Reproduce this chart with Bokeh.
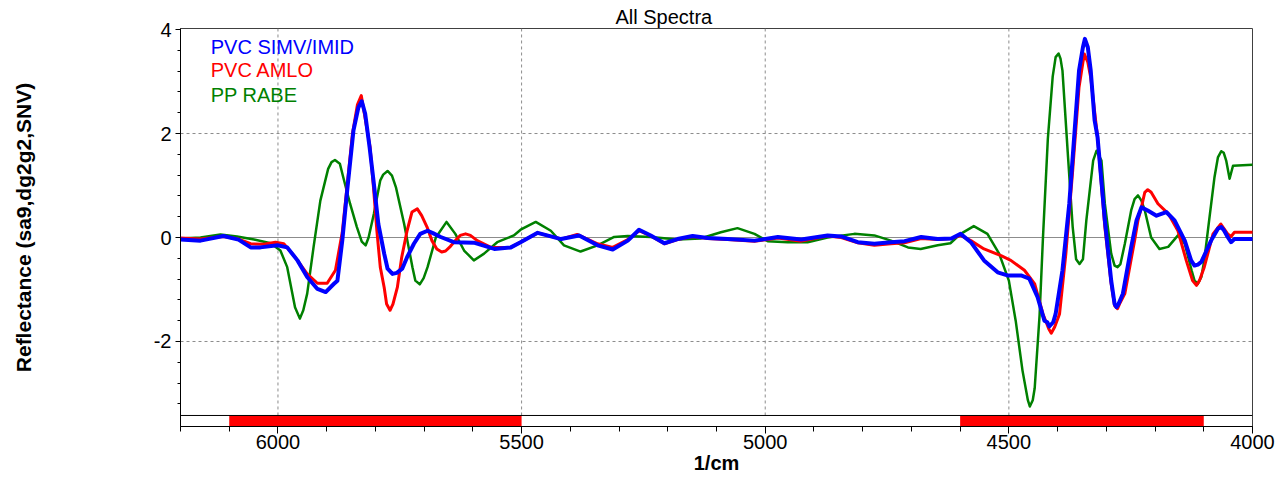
import numpy as np
from bokeh.plotting import figure
from bokeh.models import Range1d, FixedTicker, Span, Label
from bokeh.embed import file_html
from bokeh.resources import INLINE

FONT = "Liberation Sans"

series_names = ["PVC SIMV/IMID", "PVC AMLO", "PP RABE"]
series_colors = ["#0000ff", "#ff0000", "#008000"]
series_widths = [4, 3, 2.5]

blue_wn = [6200, 6159, 6112, 6081, 6056, 6036, 6001, 5981, 5960, 5940, 5919, 5902, 5885, 5878,
           5868, 5858, 5845, 5835, 5828, 5821, 5812, 5804, 5794, 5782, 5775, 5765, 5756, 5745,
           5735, 5721, 5708, 5693, 5681, 5666, 5639, 5598, 5556, 5522, 5502, 5467, 5419, 5382,
           5344, 5313, 5282, 5259, 5235, 5207, 5180, 5149, 5118, 5077, 5022, 4974, 4926, 4872,
           4844, 4810, 4776, 4742, 4714, 4680, 4646, 4618, 4599, 4578, 4551, 4523, 4503, 4475,
           4458, 4441, 4427, 4421, 4417, 4409, 4404, 4390, 4376, 4366, 4356, 4348, 4344, 4338,
           4332, 4324, 4318, 4303, 4290, 4283, 4279, 4275, 4266, 4249, 4238, 4228, 4215, 4197,
           4177, 4160, 4139, 4126, 4119, 4112, 4105, 4085, 4071, 4064, 4058, 4051, 4044, 4037,
           4000]
blue_val = [-0.04, -0.06, 0.03, -0.04, -0.19, -0.19, -0.15, -0.19, -0.44, -0.76, -0.99, -1.05, -0.89, -0.83,
            -0.06, 0.90, 2.06, 2.50, 2.62, 2.38, 1.74, 1.10, 0.26, -0.31, -0.60, -0.70, -0.68, -0.60,
            -0.38, -0.12, 0.07, 0.13, 0.08, 0.01, -0.09, -0.10, -0.22, -0.19, -0.09, 0.09, -0.03, 0.04,
            -0.15, -0.23, -0.06, 0.15, 0.04, -0.11, -0.03, 0.03, -0.01, -0.03, -0.06, 0.01, -0.04, 0.04,
            0.02, -0.09, -0.12, -0.09, -0.07, 0.01, -0.03, -0.02, 0.07, -0.09, -0.44, -0.67, -0.73, -0.73,
            -0.79, -1.15, -1.60, -1.63, -1.71, -1.63, -1.47, -0.63, 0.65, 1.93, 3.21, 3.66, 3.82, 3.66,
            3.21, 2.25, 1.93, 0.33, -0.83, -1.28, -1.34, -1.28, -1.08, -0.19, 0.33, 0.58, 0.52, 0.42,
            0.49, 0.33, -0.06, -0.44, -0.54, -0.52, -0.47, -0.06, 0.17, 0.20, 0.13, 0.01, -0.09, -0.03,
            -0.03]

red_wn = [6200, 6159, 6112, 6081, 6056, 6029, 6005, 5988, 5967, 5940, 5919, 5899, 5882, 5868,
          5858, 5847, 5837, 5829, 5818, 5811, 5804, 5797, 5790, 5782, 5777, 5770, 5764, 5755,
          5746, 5735, 5725, 5714, 5705, 5694, 5684, 5674, 5664, 5656, 5646, 5636, 5626, 5615,
          5605, 5591, 5563, 5522, 5502, 5467, 5419, 5386, 5344, 5313, 5282, 5259, 5235, 5207,
          5180, 5149, 5118, 5077, 5022, 4974, 4926, 4872, 4844, 4810, 4776, 4742, 4714, 4680,
          4646, 4618, 4599, 4578, 4551, 4516, 4496, 4468, 4447, 4430, 4418, 4413, 4406, 4396,
          4383, 4369, 4356, 4348, 4345, 4338, 4332, 4318, 4303, 4290, 4283, 4277, 4273, 4262,
          4242, 4235, 4228, 4221, 4215, 4208, 4194, 4173, 4153, 4136, 4123, 4115, 4109, 4099,
          4081, 4065, 4051, 4044, 4037, 4000]
red_val = [-0.01, -0.03, 0.02, -0.03, -0.12, -0.13, -0.09, -0.12, -0.35, -0.70, -0.88, -0.88, -0.63, 0.10,
           1.00, 2.00, 2.55, 2.73, 2.12, 1.74, 0.97, 0.13, -0.57, -0.96, -1.28, -1.40, -1.28, -0.96,
           -0.38, 0.13, 0.49, 0.55, 0.42, 0.20, -0.06, -0.22, -0.28, -0.26, -0.17, -0.06, 0.04, 0.07,
           0.04, -0.06, -0.19, -0.19, -0.09, 0.09, -0.03, 0.06, -0.12, -0.19, -0.04, 0.13, 0.03, -0.12,
           -0.04, 0.02, -0.02, -0.04, -0.07, -0.01, -0.07, 0.03, 0.00, -0.10, -0.15, -0.12, -0.10, -0.02,
           -0.04, -0.02, 0.04, -0.06, -0.22, -0.35, -0.44, -0.63, -0.89, -1.47, -1.76, -1.84, -1.72, -1.47,
           -0.31, 1.29, 2.89, 3.37, 3.53, 3.37, 3.08, 1.93, 0.20, -0.89, -1.31, -1.37, -1.28, -1.08,
           -0.06, 0.33, 0.58, 0.87, 0.92, 0.87, 0.65, 0.46, 0.13, -0.44, -0.83, -0.92, -0.83, -0.57,
           0.07, 0.26, 0.07, 0.02, 0.10, 0.10]

green_wn = [6200, 6159, 6118, 6084, 6049, 6015, 5995, 5981, 5965, 5955, 5948, 5940, 5927, 5913,
            5897, 5890, 5883, 5873, 5866, 5852, 5838, 5828, 5820, 5814, 5803, 5790, 5784, 5775,
            5766, 5758, 5741, 5724, 5718, 5709, 5701, 5693, 5676, 5654, 5636, 5618, 5598, 5577,
            5550, 5516, 5502, 5488, 5471, 5440, 5413, 5379, 5344, 5310, 5282, 5235, 5180, 5133,
            5091, 5057, 5022, 4995, 4954, 4913, 4872, 4817, 4776, 4742, 4707, 4681, 4646, 4620,
            4599, 4572, 4544, 4520, 4500, 4486, 4472, 4461, 4457, 4451, 4447, 4437, 4430, 4420,
            4410, 4404, 4398, 4394, 4390, 4379, 4369, 4362, 4355, 4348, 4341, 4327, 4320, 4310,
            4303, 4290, 4283, 4277, 4271, 4262, 4249, 4242, 4235, 4228, 4221, 4208, 4191, 4173,
            4153, 4139, 4125, 4119, 4112, 4105, 4099, 4089, 4078, 4071, 4064, 4059, 4054, 4047,
            4040, 4000]
green_val = [-0.02, 0.00, 0.06, 0.02, -0.04, -0.11, -0.25, -0.57, -1.34, -1.56, -1.40, -1.08, -0.19, 0.71,
             1.32, 1.45, 1.49, 1.42, 1.16, 0.65, 0.20, -0.08, -0.15, 0.00, 0.46, 1.10, 1.21, 1.28,
             1.19, 0.97, 0.26, -0.57, -0.83, -0.90, -0.78, -0.57, 0.00, 0.30, 0.07, -0.25, -0.44, -0.31,
             -0.09, 0.04, 0.15, 0.22, 0.30, 0.13, -0.15, -0.27, -0.15, 0.01, 0.03, 0.01, -0.04, -0.02,
             0.10, 0.18, 0.07, -0.07, -0.09, -0.09, 0.00, 0.07, 0.04, -0.06, -0.19, -0.22, -0.15, -0.11,
             0.07, 0.22, 0.07, -0.31, -0.83, -1.60, -2.56, -3.13, -3.25, -3.13, -2.90, -1.50, 0.00, 1.90,
             3.10, 3.47, 3.54, 3.44, 3.21, 1.61, 0.20, -0.42, -0.51, -0.42, 0.33, 1.48, 1.67, 1.48,
             0.65, -0.31, -0.54, -0.57, -0.51, -0.12, 0.52, 0.74, 0.81, 0.71, 0.52, 0.00, -0.22, -0.18,
             0.04, -0.12, -0.63, -0.83, -0.89, -0.76, -0.44, 0.33, 1.16, 1.54, 1.66, 1.63, 1.48, 1.13,
             1.38, 1.40]

region_start = [6100, 4600]
region_end = [5500, 4100]

x_major = [6000, 5500, 5000, 4500, 4000]
x_minor = list(range(4000, 6201, 100))
y_major = [-2, 0, 2, 4]
y_minor = [round(v, 1) for v in np.arange(-3.2, 4.01, 0.4)]

X_START, X_END = 6200, 4000
Y_START, Y_END = -3.635, 4.02
STRIP_TOP = -3.423

p = figure(width=1280, height=479,
           x_range=Range1d(X_START, X_END), y_range=Range1d(Y_START, Y_END),
           output_backend="svg", toolbar_location=None,
           min_border_left=180, min_border_right=28, min_border_top=28, min_border_bottom=53)
p.background_fill_color = "white"
p.border_fill_color = "white"
p.outline_line_color = "#404040"
p.outline_line_width = 1
p.xgrid.visible = False
p.ygrid.visible = False

# title
p.title.text = "All Spectra"
p.title.align = "left"
p.title.offset = 435
p.title.standoff = 2
p.title.text_font = FONT
p.title.text_font_size = "20px"
p.title.text_font_style = "normal"
p.title.text_color = "black"

# grid lines (stop at the strip)
grid_x = [v for v in x_major if v != X_END]
p.segment(x0=grid_x, y0=[STRIP_TOP] * len(grid_x), x1=grid_x, y1=[Y_END] * len(grid_x),
          line_color="#8c8c8c", line_dash="3 3", line_width=1, level="underlay")
for yv in y_major:
    if yv == 0:
        p.add_layout(Span(location=yv, dimension="width", line_color="#8c8c8c",
                          line_width=1, level="underlay"))
    elif yv != 4:
        p.add_layout(Span(location=yv, dimension="width", line_color="#8c8c8c",
                          line_dash="3 3", line_width=1, level="underlay"))

# region strip
p.quad(left=region_start, right=region_end, bottom=[Y_START] * 2, top=[STRIP_TOP] * 2,
       fill_color="#ff0000", line_color=None)
p.add_layout(Span(location=STRIP_TOP, dimension="width", line_color="black", line_width=1))

# spectra (green, red, blue on top)
data = [(blue_wn, blue_val), (red_wn, red_val), (green_wn, green_val)]
for i in [2, 1, 0]:
    wn, val = data[i]
    p.line(wn, val, line_color=series_colors[i], line_width=series_widths[i],
           line_join="round", line_cap="round")

# axes
p.xaxis.ticker = FixedTicker(ticks=x_major, minor_ticks=x_minor)
p.yaxis.ticker = FixedTicker(ticks=y_major, minor_ticks=y_minor)
p.yaxis.major_label_overrides = {v: str(v) for v in y_major}
for ax in (p.xaxis, p.yaxis):
    ax.axis_line_color = "black"
    ax.major_tick_line_color = "black"
    ax.minor_tick_line_color = "black"
    ax.major_tick_in = 0
    ax.minor_tick_in = 0
    ax.major_label_text_font = FONT
    ax.major_label_text_font_size = "20px"
    ax.major_label_text_color = "black"
    ax.axis_label_text_font = FONT
    ax.axis_label_text_font_style = "bold"
    ax.axis_label_text_color = "black"

p.xaxis.major_tick_out = 7
p.xaxis.minor_tick_out = 5
p.xaxis.major_label_standoff = 1
p.xaxis.axis_label = "1/cm"
p.xaxis.axis_label_text_font_size = "20px"
p.xaxis.axis_label_standoff = 0

p.yaxis.major_tick_out = 5
p.yaxis.minor_tick_out = 3
p.yaxis.major_label_standoff = 4
p.yaxis.axis_label = "Reflectance (sa9,dg2g2,SNV)"
p.yaxis.axis_label_text_font_size = "21px"
p.yaxis.axis_label_standoff = 116

# legend (colored text only)
legend_y = [3.667, 3.217, 2.737]
for name, color, ly in zip(series_names, series_colors, legend_y):
    p.add_layout(Label(x=6138, y=ly, text=name, text_align="left", text_baseline="middle",
                       text_font=FONT, text_font_size="20px", text_color=color))

open("out.html", "w").write(file_html(p, INLINE))
